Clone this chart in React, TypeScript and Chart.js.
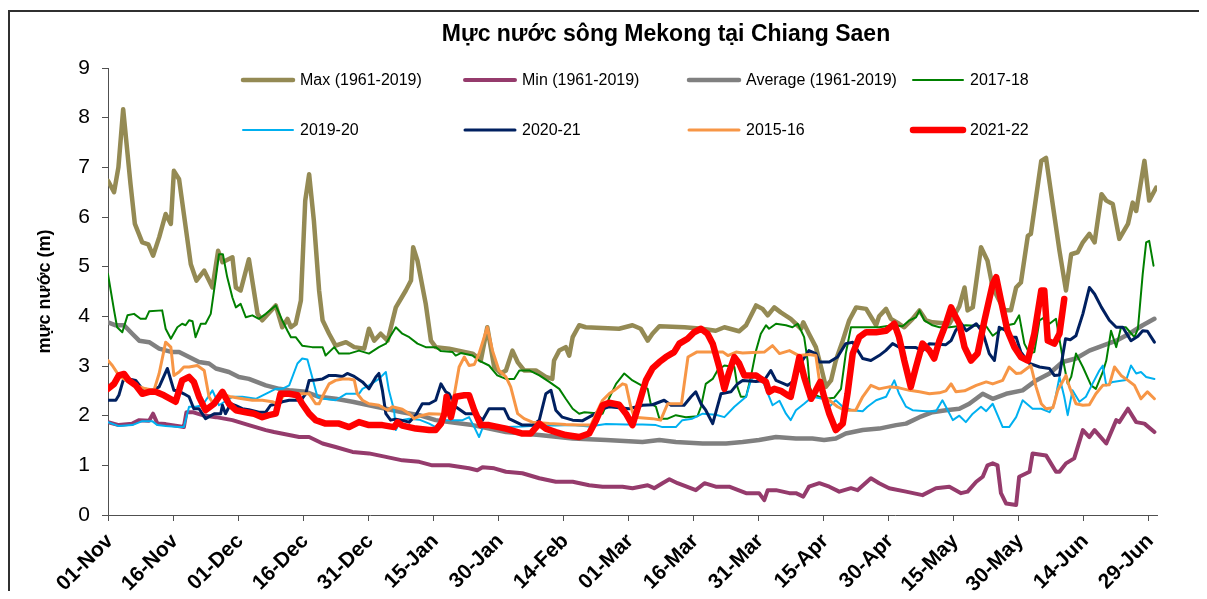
import React, { useEffect, useRef } from 'react';
import { Chart, registerables } from 'chart.js';

Chart.register(...registerables);

const FONT = '"Liberation Sans", Arial, Helvetica, sans-serif';

const chartTitle = 'Mực nước sông Mekong tại Chiang Saen';
const yAxisTitle = 'mực nước (m)';

const tickLabels = [
  '01-Nov', '16-Nov', '01-Dec', '16-Dec', '31-Dec', '15-Jan', '30-Jan', '14-Feb', '01-Mar',
  '16-Mar', '31-Mar', '15-Apr', '30-Apr', '15-May', '30-May', '14-Jun', '29-Jun',
];
const tickDays = tickLabels.map((_, i) => i * 15);

type Pt = [number, number];

// [day since 01-Nov, water level (m)]
const maxLevels: Pt[] = [
  [0, 6.73], [1.4, 6.5], [2.4, 7.0], [3.5, 8.17], [5.2, 6.66], [6.2, 5.86], [7.9, 5.49], [9.3, 5.45], [10.4, 5.22],
  [11.8, 5.59], [13.3, 6.06], [14.5, 5.86], [15.2, 6.93], [16.4, 6.76], [17.5, 6.06], [19.1, 5.05], [20.4, 4.72],
  [22.2, 4.92], [24.1, 4.58], [25.4, 5.32], [26.4, 5.09], [28.7, 5.19], [29.5, 4.58], [30.6, 4.52], [32.5, 5.15],
  [34.5, 4.05], [35.6, 3.92], [38.7, 4.22], [40.2, 3.78], [41.4, 3.95], [42.2, 3.78], [43.3, 3.85], [44.5, 4.32],
  [45.5, 6.33], [46.4, 6.86], [47.5, 5.92], [48.7, 4.52], [49.5, 3.92], [51, 3.65], [52.5, 3.41], [54.9, 3.48],
  [56.8, 3.38], [59.1, 3.35], [60.2, 3.75], [61.4, 3.51], [62.9, 3.65], [64.5, 3.51], [66.4, 4.18], [68.7, 4.52],
  [69.9, 4.72], [70.4, 5.39], [71.4, 5.12], [73.3, 4.25], [74.5, 3.51], [75.6, 3.38], [78.7, 3.35], [84.1, 3.25],
  [86, 3.11], [87.5, 3.78], [89.1, 2.98], [90.6, 2.85], [91.8, 2.91], [93.3, 3.31], [94.5, 3.08], [96, 2.91],
  [98.7, 2.91], [101, 2.78], [102.5, 2.74], [102.9, 3.11], [104.1, 3.31], [105.6, 3.38], [106.4, 3.21], [107.2, 3.58],
  [108.7, 3.82], [110.2, 3.78], [117.9, 3.75], [121, 3.82], [122.9, 3.75], [124.5, 3.51], [125.6, 3.65], [127.2, 3.8],
  [133, 3.78], [137, 3.75], [140.2, 3.71], [142.2, 3.78], [145.6, 3.7], [147.2, 3.82], [149.5, 4.22], [151, 4.15],
  [152.2, 4.02], [153.7, 4.18], [155.2, 4.08], [157.5, 3.95], [159.9, 3.75], [160.4, 3.88], [161.7, 3.65],
  [163.3, 3.38], [164.5, 2.98], [165.6, 2.58], [166.8, 2.71], [167.9, 3.11], [169.5, 3.51], [171, 3.92], [172.6, 4.18],
  [174.9, 4.15], [177.2, 3.82], [177.9, 4.0], [179.5, 4.15], [180.6, 3.95], [182.5, 3.85], [183.7, 3.78], [185.6, 3.95],
  [187.2, 4.12], [188.7, 3.92], [190.2, 3.88], [194.1, 3.85], [196.4, 4.2], [197.6, 4.58], [198.3, 4.12], [199.5, 4.18],
  [201.4, 5.39], [202.9, 5.12], [204.1, 4.58], [205.6, 4.32], [206.8, 4.12], [208.3, 4.12], [209.5, 4.58], [210.6, 4.68],
  [212.2, 5.62], [212.9, 5.66], [215.3, 7.13], [216.4, 7.19], [217.6, 6.46], [219.5, 5.32], [221, 4.52], [222.2, 5.25],
  [223.7, 5.29], [224.9, 5.49], [226.4, 5.66], [227.6, 5.49], [229.2, 6.46], [230.3, 6.33], [231.8, 6.26], [233.3, 5.56],
  [235.3, 5.86], [236.4, 6.29], [237.2, 6.12], [239.1, 7.13], [240.2, 6.33], [241.8, 6.59],
];

const minLevels: Pt[] = [
  [0, 1.87], [2.5, 1.81], [5.6, 1.84], [7.2, 1.91], [9.5, 1.9], [10.4, 2.04], [11.4, 1.84], [13.3, 1.83], [14.8, 1.81],
  [17.5, 1.77], [18.1, 2.07], [19.5, 2.07], [21.8, 2.01], [24.9, 1.97], [28.7, 1.91], [32.5, 1.81], [36.4, 1.71],
  [38.3, 1.67], [44.1, 1.57], [46.4, 1.57], [49.5, 1.44], [52.5, 1.37], [56.4, 1.27], [60.2, 1.24], [64.1, 1.17],
  [67.9, 1.1], [71.8, 1.07], [74.8, 1.0], [78.7, 1.0], [83.3, 0.94], [85.2, 0.9], [86.4, 0.96], [89.1, 0.94],
  [91.8, 0.87], [95.6, 0.84], [99.5, 0.74], [103.3, 0.67], [107.2, 0.67], [111, 0.6], [114.1, 0.57], [118.7, 0.57],
  [121, 0.54], [124.5, 0.6], [126, 0.54], [127.9, 0.64], [129.5, 0.72], [131.4, 0.64], [135.6, 0.5], [137.6, 0.64],
  [140.2, 0.57], [143.3, 0.57], [147.2, 0.44], [150.2, 0.44], [151.4, 0.3], [152.2, 0.5], [154.1, 0.5], [157.2, 0.44],
  [158.7, 0.44], [160.4, 0.37], [161.7, 0.57], [164.1, 0.64], [166.4, 0.57], [168.7, 0.47], [171.4, 0.54], [172.9, 0.5],
  [176, 0.74], [177.9, 0.64], [180.2, 0.54], [184.1, 0.47], [187.9, 0.4], [191, 0.54], [194.1, 0.57], [196.8, 0.44],
  [198.3, 0.47], [200.3, 0.67], [201.8, 0.77], [202.9, 1.0], [204.1, 1.04], [205.2, 1.0], [206, 0.44], [207.2, 0.23],
  [209.5, 0.2], [210.2, 0.77], [212.6, 0.87], [213.3, 1.24], [216.4, 1.2], [218.7, 0.87], [219.5, 0.87], [221, 1.04],
  [222.9, 1.14], [224.9, 1.71], [226.4, 1.57], [227.6, 1.71], [230.3, 1.44], [232.6, 1.91], [233.3, 1.87],
  [235.3, 2.14], [237.2, 1.87], [239.1, 1.84], [241.4, 1.67],
];

const avgLevels: Pt[] = [
  [0, 3.88], [1.8, 3.82], [3.7, 3.82], [5.6, 3.65], [7.2, 3.51], [9.5, 3.48], [11.8, 3.35], [14.8, 3.28], [16.4, 3.28],
  [18.7, 3.18], [21, 3.08], [23.3, 3.05], [24.9, 2.95], [27.9, 2.88], [30.2, 2.78], [32.5, 2.74], [36.4, 2.61],
  [39.5, 2.54], [41.8, 2.51], [45.6, 2.48], [48.7, 2.38], [52.5, 2.34], [56.4, 2.28], [60.2, 2.21], [64.1, 2.14],
  [67.9, 2.07], [71.8, 2.01], [75.6, 1.91], [78.7, 1.87], [84.1, 1.81], [91.8, 1.67], [99.5, 1.61], [107.2, 1.54],
  [114.9, 1.51], [123.3, 1.47], [127.2, 1.51], [131, 1.47], [137.2, 1.44], [142.6, 1.44], [146.4, 1.47], [150.2, 1.51],
  [154.1, 1.57], [158.7, 1.54], [162.5, 1.54], [165.2, 1.51], [167.9, 1.54], [170.2, 1.64], [174.1, 1.71],
  [177.9, 1.74], [181.8, 1.81], [184.1, 1.84], [187.2, 1.97], [190.2, 2.07], [193.3, 2.11], [196.4, 2.14],
  [198.7, 2.24], [201.8, 2.44], [204.1, 2.34], [207.2, 2.44], [211, 2.51], [214.1, 2.71], [217.2, 2.85], [220.2, 3.08],
  [223.3, 3.15], [226.4, 3.31], [229.5, 3.41], [232.6, 3.51], [235.6, 3.65], [238.7, 3.82], [241.4, 3.95],
];

const levels2017: Pt[] = [
  [0, 4.85], [1.4, 4.12], [2.1, 3.78], [3.3, 3.68], [4.5, 4.02], [6, 4.05], [7.5, 3.95], [8.7, 3.95], [9.5, 4.1],
  [12.5, 4.12], [13.3, 3.75], [14.5, 3.55], [16, 3.78], [17.1, 3.85], [17.9, 3.82], [18.7, 3.92], [19.5, 3.9],
  [20.2, 3.58], [21.4, 3.85], [22.5, 3.85], [23.7, 4.05], [24.9, 4.79], [25.6, 5.25], [26.5, 5.25], [27.5, 4.79],
  [28.7, 4.38], [29.5, 4.18], [30.6, 4.25], [31.8, 3.98], [33.3, 4.02], [34.8, 3.95], [36.4, 4.05], [38.7, 4.22],
  [40.2, 3.92], [41.4, 3.71], [42.2, 3.58], [43.3, 3.58], [44.8, 3.41], [47.1, 3.38], [49.5, 3.38], [50.2, 3.21],
  [52.2, 3.38], [53.3, 3.25], [55.6, 3.25], [57.9, 3.31], [60.2, 3.25], [62.5, 3.38], [64.1, 3.45], [66.4, 3.78],
  [67.9, 3.65], [69.5, 3.58], [71.4, 3.45], [73.3, 3.38], [75.6, 3.38], [76.8, 3.3], [79.5, 3.28], [80.2, 3.21],
  [81.4, 3.26], [84.1, 3.21], [85.6, 3.11], [87.9, 3.01], [89.8, 2.81], [91.8, 2.74], [93.7, 2.74], [94.9, 2.91],
  [97.2, 2.91], [99.5, 2.81], [101.8, 2.68], [104.1, 2.54], [105.6, 2.34], [107.2, 2.14], [108.7, 2.04], [109.9, 2.07],
  [114.1, 2.04], [115.6, 2.35], [117.2, 2.64], [119.1, 2.85], [121, 2.71], [124.5, 2.54], [125.2, 2.24], [126.4, 2.18],
  [127.2, 1.94], [129.1, 1.94], [131, 2.01], [133.3, 1.97], [136, 1.99], [136.8, 2.18], [137.9, 2.64], [139.5, 2.74],
  [140.6, 2.91], [142.2, 3.01], [144.5, 2.98], [145.2, 2.58], [146, 2.38], [147.2, 2.38], [148.3, 2.78], [149.5, 3.31],
  [150.6, 3.65], [151.8, 3.82], [152.5, 3.75], [154.1, 3.85], [156.4, 3.82], [157.9, 3.78], [159.1, 3.85],
  [159.9, 3.71], [160.6, 3.58], [161.4, 3.11], [161.9, 2.58], [162.5, 2.44], [164.1, 2.38], [165.6, 2.34],
  [167.5, 2.36], [169.1, 2.54], [170.2, 3.25], [171.4, 3.78], [174.1, 3.78], [177.9, 3.78], [181, 3.82], [183.3, 3.8],
  [184.9, 3.92], [186.4, 3.98], [187.2, 4.12], [188.3, 3.92], [190.2, 3.82], [191.8, 3.78], [194.1, 3.78],
  [197.9, 3.82], [202.6, 3.8], [204.1, 3.61], [205.6, 3.71], [207.5, 3.82], [209.1, 3.85], [210.2, 4.02],
  [211.4, 3.45], [212.6, 3.25], [213.7, 3.28], [214.9, 3.92], [216, 3.98], [217.2, 3.85], [218.7, 3.95], [220.2, 3.18],
  [221.4, 2.64], [222.2, 2.78], [223.3, 3.25], [224.9, 2.98], [226.8, 2.61], [227.9, 2.54], [229.5, 2.88],
  [230.3, 3.11], [231.4, 3.71], [232.6, 3.38], [233.7, 3.78], [234.8, 3.78], [236.8, 3.58], [237.6, 3.75],
  [238.7, 4.85], [239.5, 5.49], [240.2, 5.52], [241.2, 5.02],
];

const levels2019: Pt[] = [
  [0, 1.87], [2.5, 1.79], [5.6, 1.81], [7.9, 1.89], [10.2, 1.89], [11.4, 1.81], [13.3, 1.79], [16.4, 1.77],
  [17.5, 1.77], [18.7, 2.18], [20.2, 2.18], [21.8, 2.21], [24.1, 2.51], [25.6, 2.21], [28.7, 2.38], [31, 2.38],
  [34.1, 2.34], [36.4, 2.44], [38.7, 2.54], [40.2, 2.54], [41.8, 2.61], [43.7, 3.05], [44.8, 3.15], [46, 3.13],
  [47.1, 2.78], [48.3, 2.38], [49.8, 2.34], [52.5, 2.31], [54.9, 2.44], [57.9, 2.44], [58.7, 2.54], [60.2, 2.61],
  [62.5, 2.74], [64.1, 2.88], [64.8, 2.51], [66, 2.11], [66.4, 1.71], [67.6, 1.91], [69.5, 1.94], [71.8, 1.92],
  [74.1, 1.84], [75.6, 1.77], [76.8, 1.91], [79.5, 1.91], [81.8, 1.91], [83.3, 1.97], [84.5, 1.77], [85.6, 1.57],
  [86.8, 1.84], [88.7, 1.82], [91.8, 1.77], [95.6, 1.78], [99.5, 1.8], [103.3, 1.8], [107.2, 1.81], [111, 1.78],
  [114.9, 1.83], [119.5, 1.82], [123.3, 1.82], [126.4, 1.81], [127.9, 1.77], [131, 1.77], [132.5, 1.91], [134.8, 1.94],
  [137.2, 2.04], [140.2, 2.02], [142.2, 1.97], [144.5, 2.18], [147.2, 2.38], [148.3, 2.71], [149.5, 2.85], [151, 2.71],
  [153.3, 2.21], [154.9, 2.3], [156.4, 2.04], [157.5, 1.91], [158.7, 2.11], [160.6, 2.24], [162.5, 2.38],
  [164.8, 2.34], [166.4, 2.18], [167.9, 2.31], [169.5, 2.18], [171.7, 2.11], [174.1, 2.09], [175.2, 2.18],
  [177.2, 2.31], [179.5, 2.38], [181.4, 2.71], [182.5, 2.44], [184.1, 2.18], [185.6, 2.11], [188.7, 2.09], [191, 2.09],
  [192.5, 2.31], [193.3, 2.18], [194.9, 1.91], [196.4, 2.0], [197.9, 1.87], [199.5, 2.04], [201.4, 2.18],
  [202.6, 2.09], [204.1, 2.24], [206.4, 1.77], [207.9, 1.77], [209.5, 1.97], [211, 2.31], [213.3, 2.14],
  [215.3, 2.14], [217.2, 2.07], [218.3, 2.24], [219.5, 2.78], [220.6, 2.38], [221.4, 2.01], [222.5, 2.51],
  [224.1, 2.28], [225.6, 2.38], [227.1, 2.64], [228.7, 2.91], [229.5, 3.01], [230.3, 2.61], [231.8, 2.68],
  [233.3, 2.7], [234.9, 2.72], [236, 3.01], [237.2, 2.85], [238.3, 2.88], [239.5, 2.78], [241.4, 2.74],
];

const levels2020: Pt[] = [
  [0, 2.31], [1.8, 2.31], [2.5, 2.41], [3.5, 2.71], [4.8, 2.74], [6.4, 2.71], [7.9, 2.54], [10.2, 2.51], [11.8, 2.58],
  [13.7, 2.95], [15.2, 2.51], [16.4, 2.49], [17.5, 2.44], [18.7, 2.38], [19.8, 2.14], [21, 2.14], [22.5, 1.94],
  [24.5, 2.04], [26, 2.04], [26.4, 2.21], [27.1, 2.04], [28.3, 2.24], [29.5, 2.2], [31, 2.14], [32.5, 2.12],
  [34.8, 2.07], [36.4, 2.07], [37.5, 2.21], [39.1, 2.24], [40.2, 2.28], [41.8, 2.31], [44.5, 2.31], [45.6, 2.44],
  [46.4, 2.71], [47.9, 2.72], [49.5, 2.74], [51, 2.81], [52.5, 2.81], [54.1, 2.79], [55.2, 2.85], [56.8, 2.79],
  [58.7, 2.68], [60.2, 2.54], [61.8, 2.78], [62.5, 2.85], [63.3, 2.51], [64.1, 2.04], [65.2, 1.91], [66.4, 1.93],
  [67.6, 1.91], [69.5, 1.87], [71, 2.01], [72.5, 2.24], [74.1, 2.24], [75.6, 2.31], [76.8, 2.64], [77.9, 2.48],
  [78.7, 2.44], [80.2, 2.18], [82.5, 2.04], [84.8, 2.04], [86.4, 1.91], [87.9, 2.14], [91.4, 2.14], [92.5, 1.94],
  [95.6, 1.81], [97.9, 1.81], [99.5, 1.91], [101, 2.44], [102.2, 2.51], [103.3, 2.11], [104.8, 1.97], [107.2, 1.91],
  [109.5, 1.9], [111.8, 2.01], [114.1, 2.14], [115.6, 2.18], [120.2, 2.14], [123.3, 2.21], [125.6, 2.22],
  [128.3, 2.31], [129.9, 2.21], [132.9, 2.21], [134.5, 2.38], [135.6, 2.48], [136.8, 2.24], [137.9, 2.11],
  [139.5, 1.84], [141.4, 2.44], [143.7, 2.48], [145.2, 2.64], [146.4, 2.71], [149.5, 2.69], [151.4, 2.71],
  [152.9, 2.91], [154.1, 2.71], [156.8, 2.61], [158.3, 2.71], [160.2, 3.11], [161.7, 3.31], [163.3, 3.25],
  [164.1, 3.08], [166.4, 3.08], [168.3, 3.18], [170.2, 3.45], [171.8, 3.48], [174.1, 3.15], [176, 3.11],
  [177.9, 3.21], [179.4, 3.31], [181, 3.45], [182.5, 3.38], [186.4, 3.37], [187.9, 3.31], [189.5, 3.45],
  [193.3, 3.43], [194.5, 3.51], [195.6, 3.72], [196.9, 3.85], [198, 3.71], [200.3, 3.85], [201.8, 3.68],
  [203.3, 3.25], [204.5, 3.11], [205.6, 3.78], [207.2, 3.71], [208.3, 3.58], [209.5, 3.58], [210.6, 3.28],
  [212.6, 3.05], [214.9, 2.98], [217.2, 2.95], [218.3, 2.81], [219.5, 2.82], [220.9, 3.55], [222, 3.53],
  [223.3, 3.61], [224.9, 4.05], [226.4, 4.58], [227.6, 4.45], [229.2, 4.18], [231, 3.92], [232.6, 3.78],
  [234.1, 3.78], [236, 3.51], [237.6, 3.6], [238.7, 3.71], [239.8, 3.7], [241.4, 3.48],
];

const levels2015: Pt[] = [
  [0, 3.11], [1, 3.01], [2.5, 2.81], [4.1, 2.71], [6.4, 2.61], [8.7, 2.54], [10.6, 2.51], [11.8, 2.85], [12.9, 3.31],
  [13.3, 3.48], [14.5, 3.38], [15.2, 2.81], [16.4, 2.88], [17.5, 2.98], [18.7, 2.98], [20.6, 3.01], [22.2, 2.91],
  [23.3, 2.38], [24.5, 2.21], [26.4, 2.44], [28.3, 2.38], [31, 2.34], [33.3, 2.31], [35.6, 2.31], [37.9, 2.28],
  [39.1, 2.24], [40.6, 2.41], [42.5, 2.44], [44.8, 2.44], [46.4, 2.44], [47.9, 2.24], [48.7, 2.24], [49.8, 2.44],
  [51, 2.64], [52.5, 2.71], [54.1, 2.74], [55.6, 2.74], [56.8, 2.72], [57.5, 2.44], [58.7, 2.31], [60.2, 2.24],
  [62.5, 2.21], [64.5, 2.11], [65.6, 2.18], [67.9, 2.13], [69.5, 2.04], [70.6, 1.94], [71.8, 1.99], [74.1, 2.04],
  [77.3, 2.03], [78.7, 2.01], [79.8, 2.38], [81, 2.98], [82.2, 3.18], [83.3, 3.01], [84.5, 3.03], [85.6, 3.25],
  [87.5, 3.78], [88.7, 3.31], [90.2, 2.91], [91.8, 2.78], [92.9, 2.58], [94.5, 2.04], [96, 1.94], [97.9, 1.87],
  [101.8, 1.84], [105.6, 1.82], [108.7, 1.81], [111.4, 1.81], [112.6, 2.04], [114.1, 2.31], [115.6, 2.44],
  [116.8, 2.51], [118.7, 2.64], [119.5, 2.62], [120.6, 2.18], [121.4, 1.97], [125.6, 1.94], [127.5, 1.91],
  [129.1, 2.24], [132.3, 2.24], [133.8, 3.18], [135.8, 3.28], [139.3, 3.28], [141.9, 3.28], [143, 3.21],
  [144.9, 3.28], [146.4, 3.26], [148.7, 3.27], [151.4, 3.28], [153.3, 3.41], [154.9, 3.25], [157.2, 3.31],
  [159.4, 3.21], [161.7, 3.23], [163.3, 3.21], [164.1, 2.71], [165.2, 2.38], [166.4, 2.31], [168.3, 2.18],
  [169.9, 2.11], [172.5, 2.11], [174.1, 2.38], [176, 2.61], [177.9, 2.54], [180.2, 2.58], [182.5, 2.56],
  [184.9, 2.51], [187.2, 2.48], [189.5, 2.44], [191.8, 2.46], [193.3, 2.5], [194.5, 2.64], [195.6, 2.48],
  [197.6, 2.5], [200.3, 2.61], [202.6, 2.68], [204.1, 2.64], [206.4, 2.71], [207.9, 2.98], [209.5, 2.85],
  [210.6, 2.86], [212.9, 3.01], [214.1, 2.58], [215.3, 2.24], [216.4, 2.14], [218, 2.16], [219.1, 2.51], [221, 2.81],
  [221.8, 2.58], [223.3, 2.24], [224.9, 2.21], [226.4, 2.22], [227.9, 2.44], [229.5, 2.61], [231, 2.62],
  [232.2, 2.98], [233.7, 2.81], [235.3, 2.71], [236.8, 2.61], [238.3, 2.34], [239.8, 2.48], [241.4, 2.34],
];

const levels2021: Pt[] = [
  [0, 2.54], [1.4, 2.64], [2.5, 2.81], [3.7, 2.84], [4.8, 2.71], [6.4, 2.61], [7.9, 2.44], [9.5, 2.48], [11, 2.48],
  [12.9, 2.41], [15.6, 2.28], [17.1, 2.71], [18.7, 2.78], [19.8, 2.68], [21, 2.38], [22.5, 2.11], [24.5, 2.24],
  [26.4, 2.48], [27.9, 2.24], [29.5, 2.11], [31.8, 2.07], [33.7, 2.04], [35.6, 1.97], [37.1, 2.01], [38.7, 2.04],
  [39.8, 2.44], [41.8, 2.44], [43.7, 2.41], [44.8, 2.24], [46.4, 2.04], [47.9, 1.91], [50.2, 1.84], [53.3, 1.84],
  [55.6, 1.77], [57.9, 1.87], [60.2, 1.81], [63.3, 1.81], [66, 1.77], [66.8, 1.87], [67.9, 1.8], [71, 1.74],
  [74.1, 1.71], [75.6, 1.71], [76.8, 1.84], [77.6, 2.04], [78.1, 2.38], [79.1, 1.97], [80.2, 2.38], [82.2, 2.41],
  [83.3, 2.41], [84.5, 2.11], [86, 1.81], [87.9, 1.81], [91.8, 1.74], [95.6, 1.64], [97.5, 1.64], [99.5, 1.84],
  [101, 1.74], [103.3, 1.67], [105.6, 1.61], [108.7, 1.57], [111, 1.64], [112.6, 1.91], [114.1, 2.21], [115.6, 2.26],
  [117.9, 2.22], [119.5, 2.04], [121, 1.81], [122.5, 2.24], [124.1, 2.71], [125.6, 2.95], [127.2, 3.08],
  [128.7, 3.18], [130.6, 3.28], [131.8, 3.45], [133.7, 3.55], [135.2, 3.68], [136.8, 3.75], [138.3, 3.65],
  [139.5, 3.45], [141, 2.98], [142.2, 2.54], [143.3, 2.88], [144.5, 3.18], [145.6, 3.05], [146.8, 2.81],
  [149.5, 2.81], [150.6, 2.74], [151.8, 2.68], [152.5, 2.48], [153.7, 2.54], [155.2, 2.5], [156.8, 2.41],
  [157.5, 2.38], [159.5, 3.18], [160.6, 2.78], [162.2, 2.34], [163.3, 2.51], [164.3, 2.68], [165.2, 2.38],
  [166.4, 2.04], [167.9, 1.71], [169.5, 1.84], [170.6, 2.44], [171.8, 3.25], [173.3, 3.58], [174.9, 3.68],
  [177.2, 3.68], [179.5, 3.71], [181.4, 3.85], [182.5, 3.58], [183.7, 3.11], [185.2, 2.58], [186.4, 2.98],
  [187.9, 3.45], [189.5, 3.31], [190.6, 3.15], [191.8, 3.51], [193.3, 3.85], [194.5, 4.18], [195.2, 4.05],
  [196.4, 3.85], [197.6, 3.38], [199.1, 3.11], [200.6, 3.25], [202.2, 3.92], [204.1, 4.65], [204.9, 4.79],
  [206, 4.32], [207.5, 3.71], [209.1, 3.38], [210.6, 3.18], [212.2, 3.11], [213.7, 3.65], [215.3, 4.52],
  [216, 4.52], [216.8, 3.51], [218.3, 3.45], [219.5, 3.65], [220.6, 4.35],
];

const seriesNames = [
  'Max (1961-2019)', 'Min (1961-2019)', 'Average (1961-2019)', '2017-18',
  '2019-20', '2020-21', '2015-16', '2021-22',
];
const seriesData: Pt[][] = [maxLevels, minLevels, avgLevels, levels2017, levels2019, levels2020, levels2015, levels2021];
const seriesColors = ['#948A54', '#953B6C', '#808080', '#008000', '#00B0F0', '#002060', '#F79646', '#FF0000'];
const seriesWidths = [4.5, 4, 4.5, 2, 2, 3, 3, 6.5];

const CANVAS_W = 1207;
const CANVAS_H = 599;
const legendCols = [243, 465, 689, 913];
const legendRows = [80, 130];

const decorPlugin = {
  id: 'decor',
  beforeDraw(chart: any) {
    const ctx = chart.ctx as CanvasRenderingContext2D;
    ctx.save();
    ctx.fillStyle = '#ffffff';
    ctx.fillRect(0, 0, chart.width, chart.height);
    ctx.strokeStyle = '#303030';
    ctx.lineWidth = 2;
    ctx.beginPath();
    ctx.moveTo(9, chart.height);
    ctx.lineTo(9, 11);
    ctx.lineTo(chart.width, 11);
    ctx.stroke();
    ctx.restore();
  },
  afterDraw(chart: any) {
    const ctx = chart.ctx as CanvasRenderingContext2D;
    ctx.save();
    ctx.fillStyle = '#000';
    ctx.font = `bold 23px ${FONT}`;
    ctx.textAlign = 'center';
    ctx.textBaseline = 'alphabetic';
    ctx.fillText(chartTitle, 666, 41);

    chart.data.datasets.forEach((ds: any, i: number) => {
      const x0 = legendCols[i % 4];
      const y = legendRows[Math.floor(i / 4)];
      ctx.strokeStyle = ds.borderColor;
      ctx.lineWidth = ds.borderWidth;
      ctx.lineCap = 'round';
      ctx.beginPath();
      ctx.moveTo(x0, y);
      ctx.lineTo(x0 + 50, y);
      ctx.stroke();
      ctx.fillStyle = '#000';
      ctx.font = `16px ${FONT}`;
      ctx.textAlign = 'left';
      ctx.textBaseline = 'middle';
      ctx.fillText(ds.label, x0 + 57, y + 1);
    });
    ctx.restore();
  },
};

export default function App() {
  const ref = useRef<HTMLCanvasElement>(null);

  useEffect(() => {
    if (!ref.current) return;
    const datasets = seriesData.map((pts, i) => ({
      label: seriesNames[i],
      data: pts.map(([x, y]) => ({ x, y })),
      borderColor: seriesColors[i],
      backgroundColor: seriesColors[i],
      borderWidth: seriesWidths[i],
      order: seriesNames.length - i,
      pointRadius: 0,
      tension: 0,
      borderJoinStyle: 'round' as const,
      borderCapStyle: 'round' as const,
      fill: false,
    }));

    const chart = new Chart(ref.current, {
      type: 'line',
      data: { datasets },
      options: {
        animation: false,
        responsive: false,
        maintainAspectRatio: false,
        events: [],
        layout: { padding: { top: 68, right: 50, left: 0, bottom: 0 } },
        plugins: {
          legend: { display: false },
          title: { display: false },
          tooltip: { enabled: false },
        },
        scales: {
          x: {
            type: 'linear',
            min: 0,
            max: 242,
            afterBuildTicks: (scale: any) => {
              scale.ticks = tickDays.map((value) => ({ value }));
            },
            afterFit: (scale: any) => {
              scale.height = 84;
            },
            ticks: {
              autoSkip: false,
              maxRotation: 45,
              minRotation: 45,
              labelOffset: 2,
              padding: 8,
              color: '#000',
              font: { family: FONT, size: 21, weight: 'bold' },
              callback: (value: any) => tickLabels[Math.round(Number(value) / 15)] ?? '',
            },
            grid: { drawOnChartArea: false, drawTicks: true, tickLength: 6, color: '#505050' },
            border: { display: true, color: '#505050', width: 1 },
          },
          y: {
            min: 0,
            max: 9,
            afterFit: (scale: any) => {
              scale.width = 108;
            },
            ticks: {
              stepSize: 1,
              padding: 12,
              color: '#000',
              font: { family: FONT, size: 21 },
            },
            grid: { drawOnChartArea: false, drawTicks: true, tickLength: 6, color: '#505050' },
            border: { display: true, color: '#505050', width: 1 },
            title: {
              display: true,
              text: yAxisTitle,
              color: '#000',
              font: { family: FONT, size: 18, weight: 'bold' },
              padding: { top: 34, bottom: 0 },
            },
          },
        },
      },
      plugins: [decorPlugin],
    } as any);

    return () => chart.destroy();
  }, []);

  return (
    <div style={{ margin: -8, width: CANVAS_W, height: CANVAS_H }}>
      <canvas
        ref={ref}
        width={CANVAS_W}
        height={CANVAS_H}
        style={{ display: 'block', width: CANVAS_W, height: CANVAS_H }}
      />
    </div>
  );
}
